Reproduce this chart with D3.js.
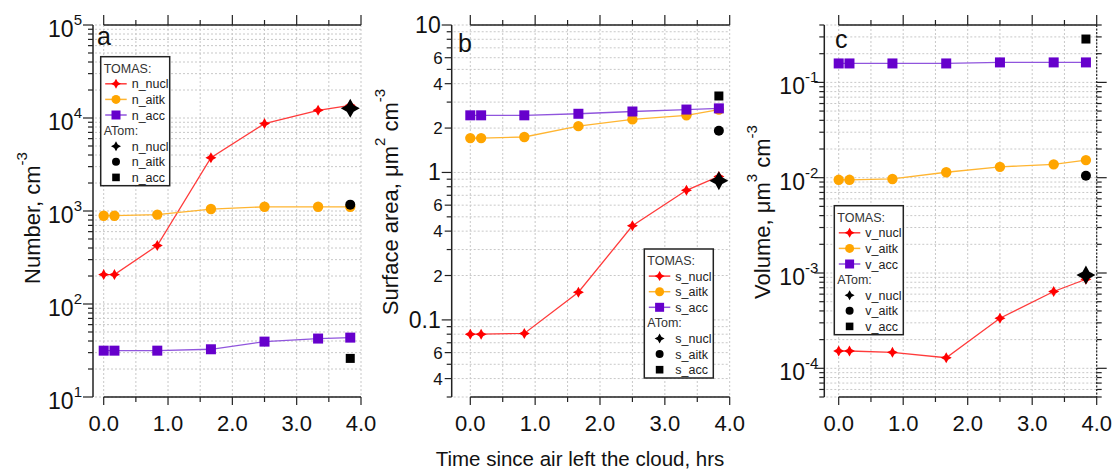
<!doctype html>
<html>
<head>
<meta charset="utf-8">
<script src="https://d3js.org/d3.v7.min.js"></script>
<style>
  body { margin: 0; background: #fff; }
  text { font-family: "Liberation Sans", Arial, sans-serif; }
</style>
</head>
<body>
<div id="chart"></div>
<script>
// hours since the air left the cloud
var times = [0, 0.167, 0.833, 1.667, 2.5, 3.333, 3.833];
var atomTime = 3.833;
var xTicks = [0, 1, 2, 3, 4];
var xTitle = "Time since air left the cloud, hrs";

// panel a: number (cm-3)
var nNucl = [207, 207, 425, 3740, 8700, 12100, 13700];
var nAitk = [890, 890, 915, 1050, 1110, 1110, 1110];
var nAcc = [31.5, 31.5, 31.5, 32.6, 39.4, 42.5, 43.5];
var nAtom = [12700, 1170, 26];

// panel b: surface area (um2 cm-3)
var sNucl = [0.080, 0.080, 0.081, 0.154, 0.435, 0.757, 0.94];
var sAitk = [1.71, 1.71, 1.74, 2.06, 2.29, 2.44, 2.67];
var sAcc = [2.44, 2.44, 2.44, 2.50, 2.59, 2.67, 2.72];
var sAtom = [0.88, 1.92, 3.30];
var sTickLabels = [[10, "10"], [6, "6"], [4, "4"], [2, "2"], [1, "1"], [0.6, "6"], [0.4, "4"],
                   [0.2, "2"], [0.1, "0.1"], [0.06, "6"], [0.04, "4"]];

// panel c: volume (um3 cm-3)
var vNucl = [1.52e-4, 1.52e-4, 1.47e-4, 1.29e-4, 3.35e-4, 6.4e-4, 8.6e-4];
var vAitk = [0.0095, 0.0095, 0.0097, 0.0114, 0.0130, 0.0138, 0.0153];
var vAcc = [0.158, 0.158, 0.158, 0.158, 0.162, 0.162, 0.162];
var vAtom = [9.5e-4, 0.0105, 0.285];

var colors = ["#ff0000", "#ffa500", "#6600cc"];
var lineColors = ["#ff3b3b", "#ffb531", "#9055dd"];

var svg = d3.select("#chart").append("svg")
  .attr("width", 1115)
  .attr("height", 471);

var yTop = 25, yBottom = 397;

// 4 point star
var star4 = {
  draw: function(ctx, size) {
    var R = Math.sqrt(size), k = R * 0.36;
    ctx.moveTo(0, -R); ctx.lineTo(k, -k); ctx.lineTo(R, 0); ctx.lineTo(k, k);
    ctx.lineTo(0, R); ctx.lineTo(-k, k); ctx.lineTo(-R, 0); ctx.lineTo(-k, -k);
    ctx.closePath();
  }
};
function marker(g, kind, cx, cy, s, fill) {
  if (kind == 0) {
    g.append("path").attr("d", d3.symbol().type(star4).size(s * s)())
      .attr("transform", "translate(" + cx + "," + cy + ")").attr("fill", fill);
  } else if (kind == 1) {
    g.append("circle").attr("cx", cx).attr("cy", cy).attr("r", s).attr("fill", fill);
  } else {
    g.append("rect").attr("x", cx - s).attr("y", cy - s).attr("width", 2 * s).attr("height", 2 * s).attr("fill", fill);
  }
}

var panels = [
  { letter: "a", x0: 103.7, x1: 361, axisX: 93, domain: [10, 1e5],
    series: [nNucl, nAitk, nAcc], atom: nAtom, names: ["n_nucl", "n_aitk", "n_acc"],
    power: true, labelGap: 11, labelDy: 12, legend: [100.7, 56.7], letterPos: [97, 45],
    title: [["Number, cm", 0], ["-3", 1]], titlePos: [40, 218] },
  { letter: "b", x0: 470.3, x1: 729.7, axisX: 451.7, domain: [0.03, 10],
    series: [sNucl, sAitk, sAcc], atom: sAtom, names: ["s_nucl", "s_aitk", "s_acc"],
    power: false, labelGap: 11, labelDy: 8, legend: [644.3, 249], letterPos: [458, 52],
    title: [["Surface area, \u03bcm", 0], ["2", 1], [" cm", 0], ["-3", 1]], titlePos: [398, 202] },
  { letter: "c", x0: 838.7, x1: 1096.7, axisX: 824.3, domain: [5e-5, 0.4],
    series: [vNucl, vAitk, vAcc], atom: vAtom, names: ["v_nucl", "v_aitk", "v_acc"],
    power: true, labelGap: 6, labelDy: 12, legend: [834.3, 205.7], letterPos: [835, 48], rightAxis: true,
    title: [["Volume, \u03bcm", 0], ["3", 1], [" cm", 0], ["-3", 1]], titlePos: [770, 212] }
];

function isDecade(v) {
  var l = Math.log10(v);
  return Math.abs(l - Math.round(l)) < 1e-6;
}

panels.forEach(function(p) {
  var g = svg.append("g");
  var x = d3.scaleLinear().domain([0, 4]).range([p.x0, p.x1]);
  var y = d3.scaleLog().domain(p.domain).range([yBottom, yTop]);
  var yt = y.ticks();
  var xt = d3.range(0, 4.01, 0.5);

  // grid
  g.selectAll(".hg").data(yt).enter().append("line")
    .attr("x1", p.axisX + 2).attr("x2", p.x1)
    .attr("y1", function(d) { return y(d); }).attr("y2", function(d) { return y(d); })
    .attr("stroke", "#c8c8c8").attr("stroke-dasharray", "2,2");
  g.selectAll(".vg").data(xt).enter().append("line")
    .attr("x1", function(d) { return x(d); }).attr("x2", function(d) { return x(d); })
    .attr("y1", yTop).attr("y2", yBottom)
    .attr("stroke", "#c8c8c8").attr("stroke-dasharray", "2,2");

  // left axis
  g.append("line").attr("x1", p.axisX).attr("x2", p.axisX).attr("y1", yTop).attr("y2", yBottom)
    .attr("stroke", "#222").attr("stroke-width", 1.5);
  var labelled = p.power ? [] : sTickLabels.map(function(d) { return d[0]; });
  g.selectAll(".yt").data(yt).enter().append("line")
    .attr("x1", p.axisX)
    .attr("x2", function(d) {
      if (isDecade(d)) return p.axisX - 10;
      if (labelled.some(function(v) { return Math.abs(v - d) < 1e-9; })) return p.axisX - 7;
      return p.axisX - 5;
    })
    .attr("y1", function(d) { return y(d); }).attr("y2", function(d) { return y(d); })
    .attr("stroke", "#222").attr("stroke-width", 1.2);

  if (p.power) {
    yt.filter(isDecade).forEach(function(d) {
      var t = g.append("text").attr("x", p.axisX - p.labelGap).attr("y", y(d) + p.labelDy)
        .attr("text-anchor", "end").attr("font-size", 23).attr("fill", "#111");
      t.append("tspan").text("10");
      t.append("tspan").attr("font-size", 15).attr("dy", -12).text(Math.round(Math.log10(d)));
    });
  } else {
    sTickLabels.forEach(function(d) {
      var major = isDecade(d[0]);
      g.append("text").attr("x", p.axisX - (major ? p.labelGap : 9)).attr("y", y(d[0]) + (major ? 8 : 6))
        .attr("text-anchor", "end").attr("font-size", major ? 23 : 17).attr("fill", "#111")
        .text(d[1]);
    });
  }

  // bottom and top axes
  g.append("line").attr("x1", p.x0).attr("x2", p.x1).attr("y1", yBottom).attr("y2", yBottom)
    .attr("stroke", "#222").attr("stroke-width", 1.5);
  g.append("line").attr("x1", p.x0).attr("x2", p.x1).attr("y1", yTop).attr("y2", yTop)
    .attr("stroke", "#222").attr("stroke-width", 1.5);
  xt.forEach(function(d) {
    var major = Math.abs(d - Math.round(d)) < 1e-6;
    g.append("line").attr("x1", x(d)).attr("x2", x(d)).attr("y1", yBottom).attr("y2", yBottom + (major ? 8 : 5))
      .attr("stroke", "#222").attr("stroke-width", 1.2);
    g.append("line").attr("x1", x(d)).attr("x2", x(d)).attr("y1", yTop).attr("y2", yTop - (major ? 10 : 5))
      .attr("stroke", "#222").attr("stroke-width", 1.2);
  });
  xTicks.forEach(function(d) {
    g.append("text").attr("x", x(d)).attr("y", 431).attr("text-anchor", "middle")
      .attr("font-size", 22).attr("fill", "#111").text(d.toFixed(1));
  });

  // right axis (panel c only)
  if (p.rightAxis) {
    g.append("line").attr("x1", p.x1).attr("x2", p.x1).attr("y1", yTop).attr("y2", yBottom)
      .attr("stroke", "#222").attr("stroke-width", 1.2).attr("stroke-dasharray", "2,1.5");
    g.selectAll(".rt").data(yt).enter().append("line")
      .attr("x1", p.x1).attr("x2", function(d) { return p.x1 + (isDecade(d) ? 10 : 5); })
      .attr("y1", function(d) { return y(d); }).attr("y2", function(d) { return y(d); })
      .attr("stroke", "#222").attr("stroke-width", 1.2);
  }

  // series
  var line = d3.line().x(function(d, i) { return x(times[i]); }).y(function(d) { return y(d); });
  p.series.forEach(function(s, k) {
    g.append("path").attr("d", line(s)).attr("fill", "none")
      .attr("stroke", lineColors[k]).attr("stroke-width", 1.3);
  });
  var sizes = [5.5, 5.2, 5];
  p.series.forEach(function(s, k) {
    s.forEach(function(v, i) { marker(g, k, x(times[i]), y(v), sizes[k], colors[k]); });
  });
  var atomSizes = [9.5, 5, 4.5];
  p.atom.forEach(function(v, k) { marker(g, k, x(atomTime), y(v), atomSizes[k], "#000"); });

  // panel letter
  g.append("text").attr("x", p.letterPos[0]).attr("y", p.letterPos[1])
    .attr("font-size", 25).attr("fill", "#111").text(p.letter);

  // y title
  var tt = g.append("text")
    .attr("transform", "translate(" + p.titlePos[0] + "," + p.titlePos[1] + ") rotate(-90)")
    .attr("text-anchor", "middle").attr("font-size", 22).attr("fill", "#111");
  var raised = false;
  p.title.forEach(function(part) {
    var ts = tt.append("tspan").text(part[0]);
    if (part[1] && !raised) { ts.attr("font-size", 15).attr("dy", -13); raised = true; }
    else if (!part[1] && raised) { ts.attr("dy", 13); raised = false; }
    else if (part[1]) ts.attr("font-size", 15);
  });

  // legend
  var lx = p.legend[0], ly = p.legend[1];
  var lg = g.append("g");
  lg.append("rect").attr("x", lx).attr("y", ly).attr("width", 69).attr("height", 129)
    .attr("fill", "#fff").attr("stroke", "#222").attr("stroke-width", 1.5);
  var rows = [["TOMAS:", -1, false]];
  p.names.forEach(function(n, k) { rows.push([n, k, true]); });
  rows.push(["ATom:", -1, false]);
  p.names.forEach(function(n, k) { rows.push([n, k, false]); });
  rows.forEach(function(r, i) {
    var cy = ly + 11.5 + i * 15.6;
    if (r[1] < 0) {
      lg.append("text").attr("x", lx + 3).attr("y", cy + 4.5).attr("font-size", 12.5)
        .attr("fill", "#333").text(r[0]);
      return;
    }
    if (r[2]) {
      lg.append("line").attr("x1", lx + 4.5).attr("x2", lx + 26).attr("y1", cy).attr("y2", cy)
        .attr("stroke", lineColors[r[1]]).attr("stroke-width", 1.5);
      marker(lg, r[1], lx + 15.3, cy, [5, 4.5, 4.5][r[1]], colors[r[1]]);
    } else {
      marker(lg, r[1], lx + 15.3, cy, [5, 4, 3.8][r[1]], "#000");
    }
    lg.append("text").attr("x", lx + 31).attr("y", cy + 4.5).attr("font-size", 12.5)
      .attr("fill", "#222").text(r[0]);
  });
});

// shared x title
svg.append("text").attr("x", 580).attr("y", 466).attr("text-anchor", "middle")
  .attr("font-size", 20.5).attr("fill", "#111").text(xTitle);
</script>
</body>
</html>
